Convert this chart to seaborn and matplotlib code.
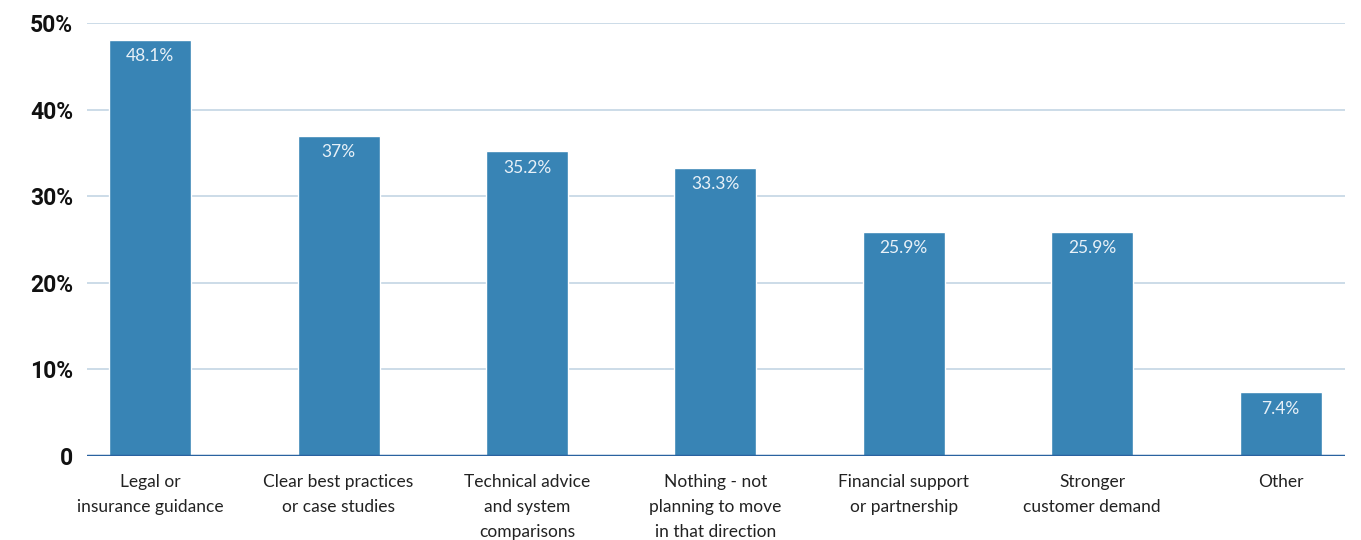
import matplotlib
matplotlib.use("Agg")
import matplotlib.pyplot as plt
import pandas as pd
import seaborn as sns

categories = [
    "Legal or\ninsurance guidance",
    "Clear best practices\nor case studies",
    "Technical advice\nand system\ncomparisons",
    "Nothing - not\nplanning to move\nin that direction",
    "Financial support\nor partnership",
    "Stronger\ncustomer demand",
    "Other",
]
values = [48.1, 37, 35.2, 33.3, 25.9, 25.9, 7.4]
value_labels = ["48.1%", "37%", "35.2%", "33.3%", "25.9%", "25.9%", "7.4%"]
y_ticks = [0, 10, 20, 30, 40, 50]
y_tick_labels = ["0", "10%", "20%", "30%", "40%", "50%"]

df = pd.DataFrame({"cat": categories, "val": values})

sns.set_style("white")
plt.rcParams["font.family"] = ["Lato", "DejaVu Sans"]

fig = plt.figure(figsize=(13.61, 5.4), dpi=100)
ax = fig.add_axes([0.064, 0.1556, 0.924, 0.8014])

sns.barplot(data=df, x="cat", y="val", color="#3884b5", saturation=1, width=0.435, ax=ax, zorder=3)

for i, (v, lab) in enumerate(zip(values, value_labels)):
    ax.text(i, v - 1.0, lab, ha="center", va="top", color="#e8f1f8", fontsize=12.5, zorder=4)

ax.set_ylim(0, 50)
ax.set_xlim(-0.335, 6.34)
ax.set_yticks(y_ticks)
ax.set_yticklabels(y_tick_labels, fontsize=16.5, fontweight="bold", color="#111111",
                   family=["Roboto", "DejaVu Sans"])
ax.set_xticks(range(len(categories)))
ax.set_xticklabels(categories, fontsize=12.5, color="#222222", linespacing=1.7)
ax.tick_params(axis="both", length=0)
ax.tick_params(axis="y", pad=10)
ax.tick_params(axis="x", pad=13)
ax.set_xlabel("")
ax.set_ylabel("")

for y in y_ticks[1:]:
    ax.axhline(y, color="#c3d5e4", linewidth=1.2, zorder=1)
ax.axhline(0, color="#2a62a0", linewidth=2.5, zorder=5)

for s in ax.spines.values():
    s.set_visible(False)

fig.savefig("out.png", dpi=100)
